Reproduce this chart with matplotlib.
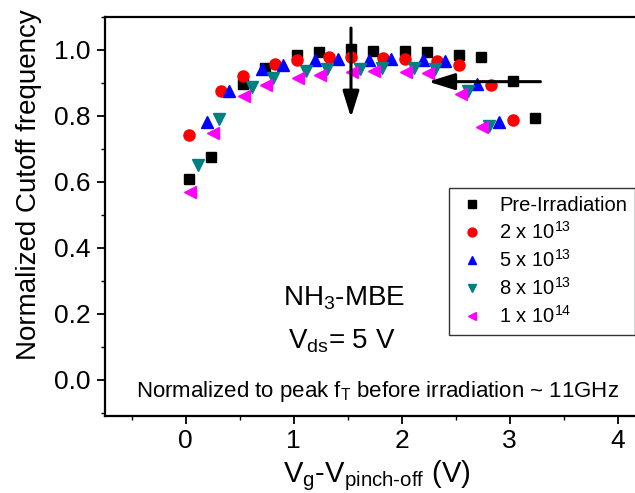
import numpy as np
import matplotlib
matplotlib.use('Agg')
import matplotlib.pyplot as plt

plt.rcParams['font.family'] = 'Liberation Sans'
plt.rcParams['mathtext.fontset'] = 'custom'
plt.rcParams['mathtext.rm'] = 'Liberation Sans'
plt.rcParams['mathtext.it'] = 'Liberation Sans'

# data
x_pre = [0.03, 0.23, 0.53, 0.73, 1.03, 1.23, 1.53, 1.73, 2.03, 2.23, 2.53, 2.73, 3.03, 3.23]
y_pre = [0.609, 0.676, 0.898, 0.945, 0.985, 0.995, 1.002, 0.998, 0.997, 0.995, 0.985, 0.980, 0.905, 0.793]

x_2e13 = [0.03, 0.33, 0.53, 0.83, 1.03, 1.33, 1.53, 1.83, 2.03, 2.33, 2.53, 2.83, 3.03]
y_2e13 = [0.743, 0.877, 0.922, 0.959, 0.970, 0.980, 0.979, 0.976, 0.974, 0.967, 0.956, 0.893, 0.789]

x_5e13 = [0.20, 0.40, 0.71, 0.90, 1.20, 1.41, 1.70, 1.90, 2.20, 2.40, 2.70, 2.90]
y_5e13 = [0.781, 0.877, 0.941, 0.956, 0.970, 0.972, 0.970, 0.973, 0.969, 0.966, 0.897, 0.783]

x_8e13 = [0.11, 0.31, 0.61, 0.81, 1.11, 1.31, 1.61, 1.82, 2.11, 2.31, 2.61, 2.81]
y_8e13 = [0.650, 0.792, 0.889, 0.915, 0.936, 0.943, 0.942, 0.944, 0.944, 0.941, 0.875, 0.769]

x_1e14 = [0.04, 0.25, 0.54, 0.74, 1.04, 1.24, 1.54, 1.74, 2.04, 2.24, 2.55, 2.74]
y_1e14 = [0.568, 0.747, 0.860, 0.893, 0.916, 0.924, 0.932, 0.936, 0.933, 0.931, 0.868, 0.767]

fig = plt.figure(figsize=(6.35, 4.93), dpi=100)
ax = fig.add_axes([0.165, 0.156, 0.835, 0.8095])

ms = 7
ax.plot(x_pre, y_pre, 's', color='black', ms=ms, label='Pre-Irradiation')
ax.plot(x_2e13, y_2e13, 'o', color='red', ms=ms + 1, label=r'2 x 10$^{13}$')
ax.plot(x_5e13, y_5e13, '^', color='blue', ms=ms + 1, label=r'5 x 10$^{13}$')
ax.plot(x_8e13, y_8e13, 'v', color='#008080', ms=ms + 1, label=r'8 x 10$^{13}$')
ax.plot(x_1e14, y_1e14, '<', color='magenta', ms=ms + 1, label=r'1 x 10$^{14}$')

# arrows
ax.annotate('', xy=(1.53, 0.787), xytext=(1.53, 1.075),
            arrowprops=dict(arrowstyle='-|>,head_length=0.8,head_width=0.25', color='black',
                            lw=2.2, mutation_scale=20))
ax.annotate('', xy=(2.22, 0.904), xytext=(3.31, 0.904),
            arrowprops=dict(arrowstyle='-|>,head_length=0.8,head_width=0.25', color='black',
                            lw=2.2, mutation_scale=20))

ax.set_xlim(-0.75, 4.16)
ax.set_ylim(-0.11, 1.1)
ax.set_xticks([0, 1, 2, 3, 4])
ax.set_xticks(np.arange(-0.5, 4.1, 0.5), minor=True)
ax.set_yticks([0.0, 0.2, 0.4, 0.6, 0.8, 1.0])
ax.set_yticks(np.arange(-0.1, 1.1, 0.1), minor=True)
ax.tick_params(which='major', direction='out', length=6, width=1.3, labelsize=19)
ax.tick_params(which='minor', direction='out', length=3, width=1.0)
ax.tick_params(axis='y', pad=4)
ax.tick_params(axis='x', pad=3)
for s in ['left', 'bottom', 'top']:
    ax.spines[s].set_linewidth(1.6)
ax.spines['right'].set_visible(False)

ax.set_xlabel(r'V$_\mathregular{g}$-V$_\mathregular{pinch\text{-}off}$ (V)', fontsize=21, labelpad=0)
ax.xaxis.set_label_coords(0.512, -0.105)
ax.set_ylabel('Normalized Cutoff frequency', fontsize=20)
ax.yaxis.set_label_coords(-0.118, 0.579)

ax.text(0.451, 0.278, r'NH$_\mathregular{3}$-MBE', transform=ax.transAxes, fontsize=20,
        ha='center', va='baseline')
ax.text(0.446, 0.170, r'V$_\mathregular{ds}$= 5 V', transform=ax.transAxes, fontsize=20,
        ha='center', va='baseline')
ax.text(0.515, 0.048, r'Normalized to peak f$_\mathregular{T}$ before irradiation ~ 11GHz',
        transform=ax.transAxes, fontsize=16, ha='center', va='baseline')

leg = ax.legend(loc='upper left', bbox_to_anchor=(0.649, 0.571), fontsize=14.5, frameon=True,
                fancybox=False, edgecolor='black', handletextpad=0.6, labelspacing=0.3,
                borderpad=0.4, handlelength=1.5, borderaxespad=0, markerscale=0.8)
leg.get_frame().set_linewidth(1.0)

fig.savefig('out.png', dpi=100)
